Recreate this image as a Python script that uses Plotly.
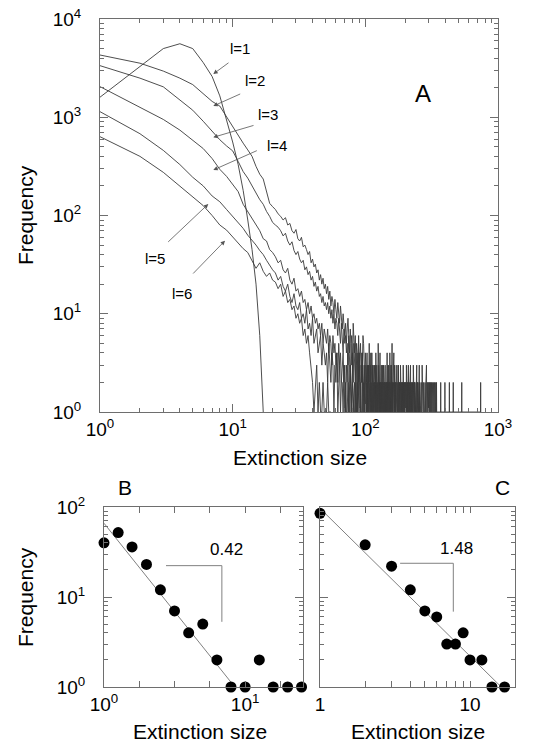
import plotly.graph_objects as go

# ---------------- data: panel A (frequency of extinction sizes, levels l=1..6) ----------------
counts_l1 = [1600, 3300, 5000, 5600, 5000, 3600, 2600, 1650, 950, 560, 330, 180, 90, 45, 20, 6, 1]

counts_l2 = [4300, 3550, 2950, 2500, 2150, 1750, 1450, 1300, 1000, 800, 660, 545, 465, 400, 316, 263, 235, 178, 133, 123,
             115, 104, 98, 90, 95, 80, 83, 70, 66, 72, 58, 55, 60, 48, 50, 45, 40, 43, 33, 36, 30, 32, 26, 28, 22, 25, 20, 23, 18, 20,
             16, 19, 14, 17, 12, 15, 13, 10, 14, 11, 9, 13, 10, 8, 12, 9, 7, 10, 8, 6,
             8, 5, 7, 9, 6, 4, 7, 5, 6, 3, 8, 5, 4, 6, 3, 5, 4, 2, 6, 3, 4, 5, 2, 4, 3, 6, 5, 3, 2, 4,
             3, 2, 4, 1, 3, 2, 5, 2, 3, 1, 2, 4, 2, 3, 1, 2, 3, 2, 1, 4, 2, 3, 1, 2, 5, 3, 1, 2, 4, 1, 2, 3, 1, 2, 2, 1, 3, 2, 1, 2, 3, 1, 2, 1, 2, 4, 1, 2, 1, 3,
             2, 1, 4, 2, 1, 3, 1, 2, 5, 1, 2, 1, 2, 4, 1, 3, 1, 2, 1, 2, 3, 1, 2, 1, 1, 2, 3, 1, 1, 2, 1, 2, 1, 3, 1, 2, 1, 2, 1, 1, 2, 1, 3, 1, 1, 2, 1, 2, 1, 2,
             1, 2, 1, 3, 2, 1, 1, 2, 1, 2, 3, 1, 1, 2, 1, 1, 2, 1, 3, 1, 1, 2, 1, 1, 2, 1, 2, 1, 1, 3, 1, 2, 1, 1, 2, 1, 1, 2, 1, 1, 2, 1, 1, 3, 1, 1, 2, 1, 1, 2,
             1, 1, 2, 1, 3, 1, 2, 1, 1, 1, 2, 1, 1, 2, 1, 1, 1, 3, 1, 1, 2, 1, 1, 1, 2, 1, 1, 2, 1, 1, 1, 2, 1, 1, 1, 2, 1, 1, 3, 1, 1, 1, 2, 1, 1, 1, 2, 1, 1, 1,
             2, 1, 1, 1, 2, 1, 1, 1, 1, 2, 1, 1, 1, 1, 2, 1, 1, 1, 1, 2, 1, 1, 1, 1, 1, 2, 1, 1, 1, 1, 1, 2, 1, 1, 1, 1, 1, 1, 2, 1, 1, 1, 1, 2, 1]
far_sizes_l2 = [369, 370, 371, 397, 398, 399, 429, 430, 431, 459, 460, 461, 532, 533, 534, 739, 740, 741]
far_counts_l2 = [1, 2, 1, 1, 2, 1, 1, 2, 1, 1, 2, 1, 1, 2, 1, 1, 2, 1]

counts_l3 = [3350, 2500, 2040, 1480, 1180, 910, 720, 590, 510, 455, 355, 280, 240, 200, 165, 145, 130, 110, 98, 85,
             80, 76, 70, 62, 66, 55, 50, 54, 44, 40, 43, 36, 33, 35, 28, 30, 25, 27, 22, 24, 19, 21, 17, 19, 15, 16, 13, 15, 12, 13,
             11, 13, 10, 12, 9, 11, 8, 10, 7, 9, 8, 6, 9, 7, 5, 8, 6, 4, 7, 5,
             6, 4, 5, 3, 6, 4, 2, 5, 3, 4, 2, 5, 3, 2, 4, 3, 1, 4, 2, 3, 2, 1, 3, 2, 4, 1, 2, 3, 1, 2,
             3, 1, 2, 2, 1, 3, 2, 1, 2, 4, 1, 2, 1, 3, 2, 1, 2, 1, 3, 1, 2, 1, 2, 1, 1, 3, 1, 2, 1, 2, 1, 1, 2, 1, 3, 1, 1, 2, 1, 2, 1, 1, 2, 1, 1, 2, 1, 3, 1, 1,
             2, 1, 1, 2, 1, 1, 3, 1, 1, 2, 1, 1, 2, 1, 1, 1, 2, 1, 1, 2, 1, 1, 1, 2, 1, 1, 3, 1, 1, 1, 2, 1, 1, 2, 1, 1, 1, 2, 1, 1, 1, 2, 1, 1, 1, 1, 2, 1, 1, 1,
             2, 1, 1, 1, 2, 1, 1, 1, 1, 2, 1, 1, 1, 2, 1, 1, 1, 1, 2, 1, 1, 1, 1, 2, 1, 1, 1, 1, 1, 2, 1, 1, 1, 1, 2, 1, 1, 1, 1, 1, 2, 1, 1, 1, 1, 1, 1, 2, 1, 1,
             1, 1, 1, 2, 1, 1, 1, 1, 1, 1]

counts_l4 = [2050, 1260, 950, 740, 590, 480, 380, 295, 250, 210, 175, 130, 110, 95, 80, 70, 58, 55, 45, 42,
             38, 33, 35, 28, 26, 29, 22, 20, 23, 17, 18, 15, 17, 13, 14, 11, 13, 10, 12, 9, 10, 8, 9, 7, 8, 6, 8, 5, 7, 6,
             5, 7, 4, 6, 5, 3, 6, 4, 5, 3, 4, 2, 5, 3, 4, 2, 3, 4, 2, 3, 1, 3, 2, 4, 1, 2, 3, 1, 2, 3,
             1, 2, 2, 1, 3, 1, 2, 1, 2, 4, 1, 2, 1, 1, 3, 1, 2, 1, 2, 1, 1, 2, 1, 3, 1, 1, 2, 1, 1, 2, 1, 1, 1, 2, 1, 1, 2, 1, 1, 1, 2, 1, 1, 1, 2, 1, 1, 1, 1, 2,
             1, 1, 1, 2, 1, 1, 1, 1, 2, 1, 1, 1, 1, 1, 2, 1, 1, 1, 1, 1, 2, 1, 1, 1, 1, 1, 1, 2, 1, 1]

counts_l5 = [1140, 680, 460, 330, 245, 200, 158, 138, 115, 98, 85, 74, 63, 56, 50, 44, 40, 35, 31, 28,
             26, 22, 24, 19, 17, 20, 15, 13, 16, 12, 11, 13, 9, 10, 8, 11, 7, 8, 6, 9, 5, 6, 7, 4, 5, 6, 3, 5, 4, 3,
             4, 2, 5, 3, 2, 4, 3, 1, 3, 2, 4, 1, 2, 3, 1, 2, 2, 1, 3, 1, 2, 1, 1, 2, 1, 1, 3, 1, 1, 2, 1, 1, 1, 2, 1, 1, 1, 2, 1, 1]

counts_l6 = [634, 400, 275, 200, 155, 126, 100, 80, 71, 60, 52, 46, 42, 35, 29, 33, 27, 24, 26, 22,
             21, 18, 20, 15, 17, 13, 14, 11, 12, 9, 10, 8, 9, 6, 7, 5, 6, 4, 3, 2, 1, 2, 3, 1, 2, 1, 1, 2, 1, 1, 1, 2, 1, 1, 1]

# ---------------- data: panel B ----------------
sizes_B = [1.0, 1.26, 1.58, 2.0, 2.51, 3.16, 3.98, 5.01, 6.31, 7.94, 10.0, 12.6, 15.8, 20.0, 25.1]
freq_B = [40, 52, 36, 23, 12, 7, 4, 5, 2, 1, 1, 2, 1, 1, 1]
fit_B_sizes = [1.0, 8.05]
fit_B_freq = [66, 1.1]
bracket_B_sizes = [2.75, 6.84, 6.84]
bracket_B_freq = [22.3, 22.3, 5.3]
slope_B_label = "0.42"

# ---------------- data: panel C ----------------
sizes_C = [1, 2, 3, 4, 5, 6, 7, 8, 9, 10, 12, 14, 17]
freq_C = [85, 38, 22, 12, 7, 6, 3, 3, 4, 2, 2, 1, 1]
fit_C_sizes = [1.0, 15.7]
fit_C_freq = [96.6, 1.05]
bracket_C_sizes = [3.42, 7.74, 7.74]
bracket_C_freq = [23.7, 23.7, 6.87]
slope_C_label = "1.48"

decade_vals = [1, 10, 100, 1000, 10000]
decade_text = ["10<sup>0</sup>", "10<sup>1</sup>", "10<sup>2</sup>", "10<sup>3</sup>", "10<sup>4</sup>"]
quarter_decade_ticks = [10 ** 0.25, 10 ** 0.5, 10 ** 0.75, 10 ** 1.25]

# ---------------- layout helpers ----------------
W, H = 540, 756
FONT = "Liberation Sans, Arial, Helvetica, sans-serif"
AX = "#6e6e6e"
LINE = "#3a3a3a"


def fx(p):
    return p / W


def fy(p):
    return 1 - p / H


def minor_vals(lo_dec, hi_dec):
    out = []
    for d in range(lo_dec, hi_dec):
        for m in range(2, 10):
            out.append(m * 10 ** d)
    return out


fig = go.Figure()

curves = [counts_l1, counts_l2, counts_l3, counts_l4, counts_l5, counts_l6]
for i, c in enumerate(curves):
    xs = list(range(1, len(c) + 1))
    ys = list(c)
    if i == 1:
        xs = xs + far_sizes_l2
        ys = ys + far_counts_l2
    fig.add_trace(go.Scatter(x=xs, y=ys, mode="lines", line=dict(color=LINE, width=0.9),
                             xaxis="x", yaxis="y", showlegend=False, hoverinfo="skip"))

# panel B
fig.add_trace(go.Scatter(x=fit_B_sizes, y=fit_B_freq, mode="lines", line=dict(color="#808080", width=1),
                         xaxis="x2", yaxis="y2", showlegend=False))
fig.add_trace(go.Scatter(x=bracket_B_sizes, y=bracket_B_freq, mode="lines", line=dict(color="#808080", width=1),
                         xaxis="x2", yaxis="y2", showlegend=False))
fig.add_trace(go.Scatter(x=sizes_B, y=freq_B, mode="markers", marker=dict(color="black", size=11),
                         cliponaxis=False, xaxis="x2", yaxis="y2", showlegend=False))
# panel C
fig.add_trace(go.Scatter(x=fit_C_sizes, y=fit_C_freq, mode="lines", line=dict(color="#808080", width=1),
                         xaxis="x3", yaxis="y3", showlegend=False))
fig.add_trace(go.Scatter(x=bracket_C_sizes, y=bracket_C_freq, mode="lines", line=dict(color="#808080", width=1),
                         xaxis="x3", yaxis="y3", showlegend=False))
fig.add_trace(go.Scatter(x=sizes_C, y=freq_C, mode="markers", marker=dict(color="black", size=11),
                         cliponaxis=False, xaxis="x3", yaxis="y3", showlegend=False))

common = dict(type="log", showline=True, linecolor=AX, linewidth=1, mirror="ticks", ticks="inside",
              tickcolor=AX, tickwidth=1, showgrid=False, zeroline=False, automargin=False,
              tickfont=dict(family=FONT, size=19, color="black"))

fig.update_layout(
    width=W, height=H, margin=dict(l=0, r=0, t=0, b=0, autoexpand=False),
    paper_bgcolor="white", plot_bgcolor="white", showlegend=False,
    xaxis=dict(common, domain=[fx(100), fx(498)], range=[0, 3], anchor="y",
               tickmode="array", tickvals=decade_vals[:4], ticktext=decade_text[:4], ticklen=8,
               minor=dict(ticks="inside", ticklen=4, tickcolor=AX, tickmode="array", tickvals=minor_vals(0, 3))),
    yaxis=dict(common, domain=[fy(412), fy(19)], range=[0, 4], anchor="x",
               tickmode="array", tickvals=decade_vals, ticktext=decade_text, ticklen=8, ticklabelstandoff=14,
               minor=dict(ticks="inside", ticklen=4, tickcolor=AX, tickmode="array", tickvals=minor_vals(0, 4))),
    xaxis2=dict(common, domain=[fx(104), fx(303)], range=[0, 1.41], anchor="y2",
                tickmode="array", tickvals=[1, 10], ticktext=decade_text[:2], ticklen=6,
                minor=dict(ticks="inside", ticklen=6, tickcolor=AX, tickmode="array", tickvals=quarter_decade_ticks)),
    yaxis2=dict(common, domain=[fy(687), fy(507)], range=[0, 2], anchor="x2",
                tickmode="array", tickvals=[1, 10, 100], ticktext=decade_text[:3], ticklen=8, ticklabelstandoff=14,
                minor=dict(ticks="inside", ticklen=4, tickcolor=AX, tickmode="array", tickvals=minor_vals(0, 2))),
    xaxis3=dict(common, domain=[fx(320), fx(515)], range=[0, 1.30], anchor="y3",
                tickmode="array", tickvals=[1, 10], ticktext=["1", "10"], ticklen=6,
                minor=dict(ticks="inside", ticklen=6, tickcolor=AX, tickmode="array", tickvals=minor_vals(0, 2))),
    yaxis3=dict(common, domain=[fy(687), fy(507)], range=[0, 2], anchor="x3",
                tickmode="array", tickvals=[1, 10, 100], showticklabels=False, ticklen=8,
                minor=dict(ticks="inside", ticklen=4, tickcolor=AX, tickmode="array", tickvals=minor_vals(0, 2))),
)

ann = []


def txt(x, y, s, size=15, angle=0, xanchor="center"):
    ann.append(dict(x=fx(x), y=fy(y), xref="paper", yref="paper", text=s, showarrow=False,
                    font=dict(family=FONT, size=size, color="black"), textangle=angle,
                    xanchor=xanchor, yanchor="middle"))


def arrow(tx, ty, sx, sy):
    ann.append(dict(x=fx(tx), y=fy(ty), xref="paper", yref="paper", ax=sx - tx, ay=sy - ty,
                    axref="pixel", ayref="pixel", text="", showarrow=True, arrowhead=2,
                    arrowsize=1.1, arrowwidth=0.8, arrowcolor="#555"))


# panel A labels
txt(423, 93, "A", 24)
txt(240, 48, "l=1")
txt(255, 80, "l=2")
txt(268, 115, "l=3")
txt(277, 145, "l=4")
txt(155, 258, "l=5")
txt(182, 293, "l=6")
arrow(213.3, 74, 230, 61.7)
arrow(213.3, 106, 241.7, 93.3)
arrow(213.3, 137.3, 255, 125)
arrow(213.3, 170, 258.3, 150)
arrow(208.3, 204, 166.7, 243.3)
arrow(225, 240.7, 191.7, 275)
txt(25, 215, "Frequency", 21, angle=-90)
txt(300, 457, "Extinction size", 21)

# panels B, C labels
txt(125, 487, "B", 21)
txt(502, 487, "C", 21)
txt(25, 597, "Frequency", 21, angle=-90)
txt(200, 731, "Extinction size", 21)
txt(418, 731, "Extinction size", 21)
txt(226, 549, slope_B_label, 17)
txt(456, 548, slope_C_label, 17)

fig.update_layout(annotations=ann)
fig.write_html("out.html", config={"displayModeBar": False},
               post_script="document.body.style.margin='0px';document.body.style.padding='0px';")
